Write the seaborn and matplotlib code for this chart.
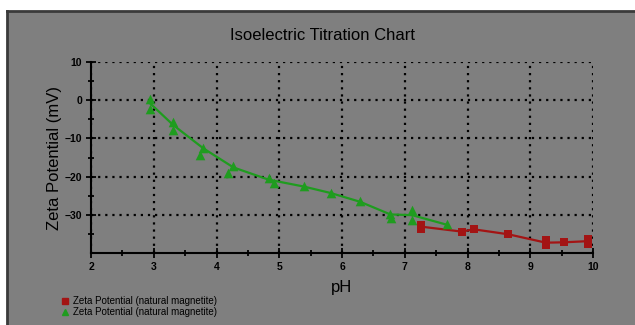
import matplotlib
matplotlib.use('Agg')
import matplotlib.pyplot as plt
import seaborn as sns
import pandas as pd
from matplotlib.lines import Line2D
from matplotlib.patches import Rectangle

# Puntos medidos (triangulos verdes)
ph_verde = [2.94, 2.94, 3.31, 3.30, 3.79, 3.74, 4.27, 4.19, 4.83, 4.91, 5.39, 5.82,
            6.29, 6.77, 6.78, 7.12, 7.12, 7.67]
zeta_verde = [0.4, -2.4, -5.7, -7.8, -12.4, -14.4, -17.2, -19.1, -20.4, -21.6, -22.5, -24.4,
              -26.5, -29.8, -30.9, -28.7, -31.3, -32.4]

# Curva verde
ph_curva_verde = [2.94, 3.31, 3.79, 4.27, 4.83, 5.39, 5.82, 6.29, 6.77, 7.12, 7.67]
zeta_curva_verde = [-0.8, -6.5, -12.6, -17.6, -20.8, -22.6, -24.3, -26.6, -29.9, -30.1, -32.6]

# Puntos medidos (cuadrados rojos)
ph_rojo = [7.26, 7.26, 7.91, 8.10, 8.65, 9.25, 9.25, 9.54, 9.92, 9.92]
zeta_rojo = [-32.6, -33.6, -34.4, -33.7, -35.1, -36.6, -38.0, -37.2, -36.3, -37.6]

# Linea roja
ph_linea_rojo = [7.26, 7.91, 8.10, 8.65, 9.25, 9.54, 9.92]
zeta_linea_rojo = [-33.1, -34.4, -33.8, -35.1, -37.3, -37.2, -36.9]

etiqueta = 'Zeta Potential (natural magnetite)'
verde = '#1f9c1f'
rojo = '#a31414'
gris = '#7f7f7f'

plt.rcParams['font.family'] = ['Liberation Sans', 'DejaVu Sans']

fig = plt.figure(figsize=(6.35, 3.25), dpi=100, facecolor='white')

# Panel gris con borde oscuro arriba e izquierda
fig.add_artist(Rectangle((7/635, 0), 1, 1 - 11/325, transform=fig.transFigure,
                         facecolor=gris, edgecolor='none', zorder=-10))
fig.add_artist(Line2D([7/635, 1], [1 - 11/325, 1 - 11/325], transform=fig.transFigure,
                      color='#3a3a3a', linewidth=2, zorder=-5))
fig.add_artist(Line2D([7/635, 7/635], [0, 1 - 11/325], transform=fig.transFigure,
                      color='#3a3a3a', linewidth=2, zorder=-5))

ax = fig.add_axes([91/635, 1 - 253/325, (593 - 91)/635, (253 - 62)/325])
ax.set_facecolor('none')

sns.lineplot(x=ph_curva_verde, y=zeta_curva_verde, color=verde, linewidth=1.6,
             estimator=None, sort=False, ax=ax, zorder=3)
sns.lineplot(x=ph_linea_rojo, y=zeta_linea_rojo, color=rojo, linewidth=1.6,
             estimator=None, sort=False, ax=ax, zorder=3)
sns.scatterplot(x=ph_verde, y=zeta_verde, marker='^', s=48, color=verde,
                linewidth=0, ax=ax, zorder=4)
sns.scatterplot(x=ph_rojo, y=zeta_rojo, marker='s', s=38, color=rojo,
                linewidth=0, ax=ax, zorder=4)

ax.set_xlim(2, 10)
ax.set_ylim(-40, 10)
ax.set_xticks(range(2, 11))
ax.set_yticks([-30, -20, -10, 0, 10])
ax.set_xticks([x + 0.5 for x in range(2, 10)], minor=True)
ax.set_yticks([-35, -25, -15, -5, 5], minor=True)

ax.grid(True, which='major', color='black', linestyle=(0, (1, 2.2)), linewidth=1.6)
ax.set_axisbelow(True)

for lado in ['top', 'right']:
    ax.spines[lado].set_visible(False)
for lado in ['left', 'bottom']:
    ax.spines[lado].set_color('black')
    ax.spines[lado].set_linewidth(1.5)

ax.tick_params(which='major', direction='inout', length=7, width=1.3, labelsize=7.5,
               colors='black', pad=3)
ax.tick_params(which='minor', direction='inout', length=5, width=1.3)
for lbl in ax.get_xticklabels() + ax.get_yticklabels():
    lbl.set_fontweight('bold')

ax.set_xlabel('pH', fontsize=12, labelpad=6)
ax.set_ylabel('Zeta Potential (mV)', fontsize=12, labelpad=2)

fig.text(323/635, 1 - 36/325, 'Isoelectric Titration Chart', fontsize=12,
         ha='center', va='center')

# Leyenda
manejadores = [
    Line2D([], [], marker='s', color=rojo, linestyle='none', markersize=5),
    Line2D([], [], marker='^', color=verde, linestyle='none', markersize=5),
]
fig.legend(manejadores, [etiqueta, etiqueta], loc='upper left',
           bbox_to_anchor=(61/635, 1 - 296/325), frameon=False, fontsize=7,
           handlelength=0.8, handletextpad=0.4, labelspacing=0.15,
           borderaxespad=0, borderpad=0)

plt.savefig('out.png', dpi=100)
